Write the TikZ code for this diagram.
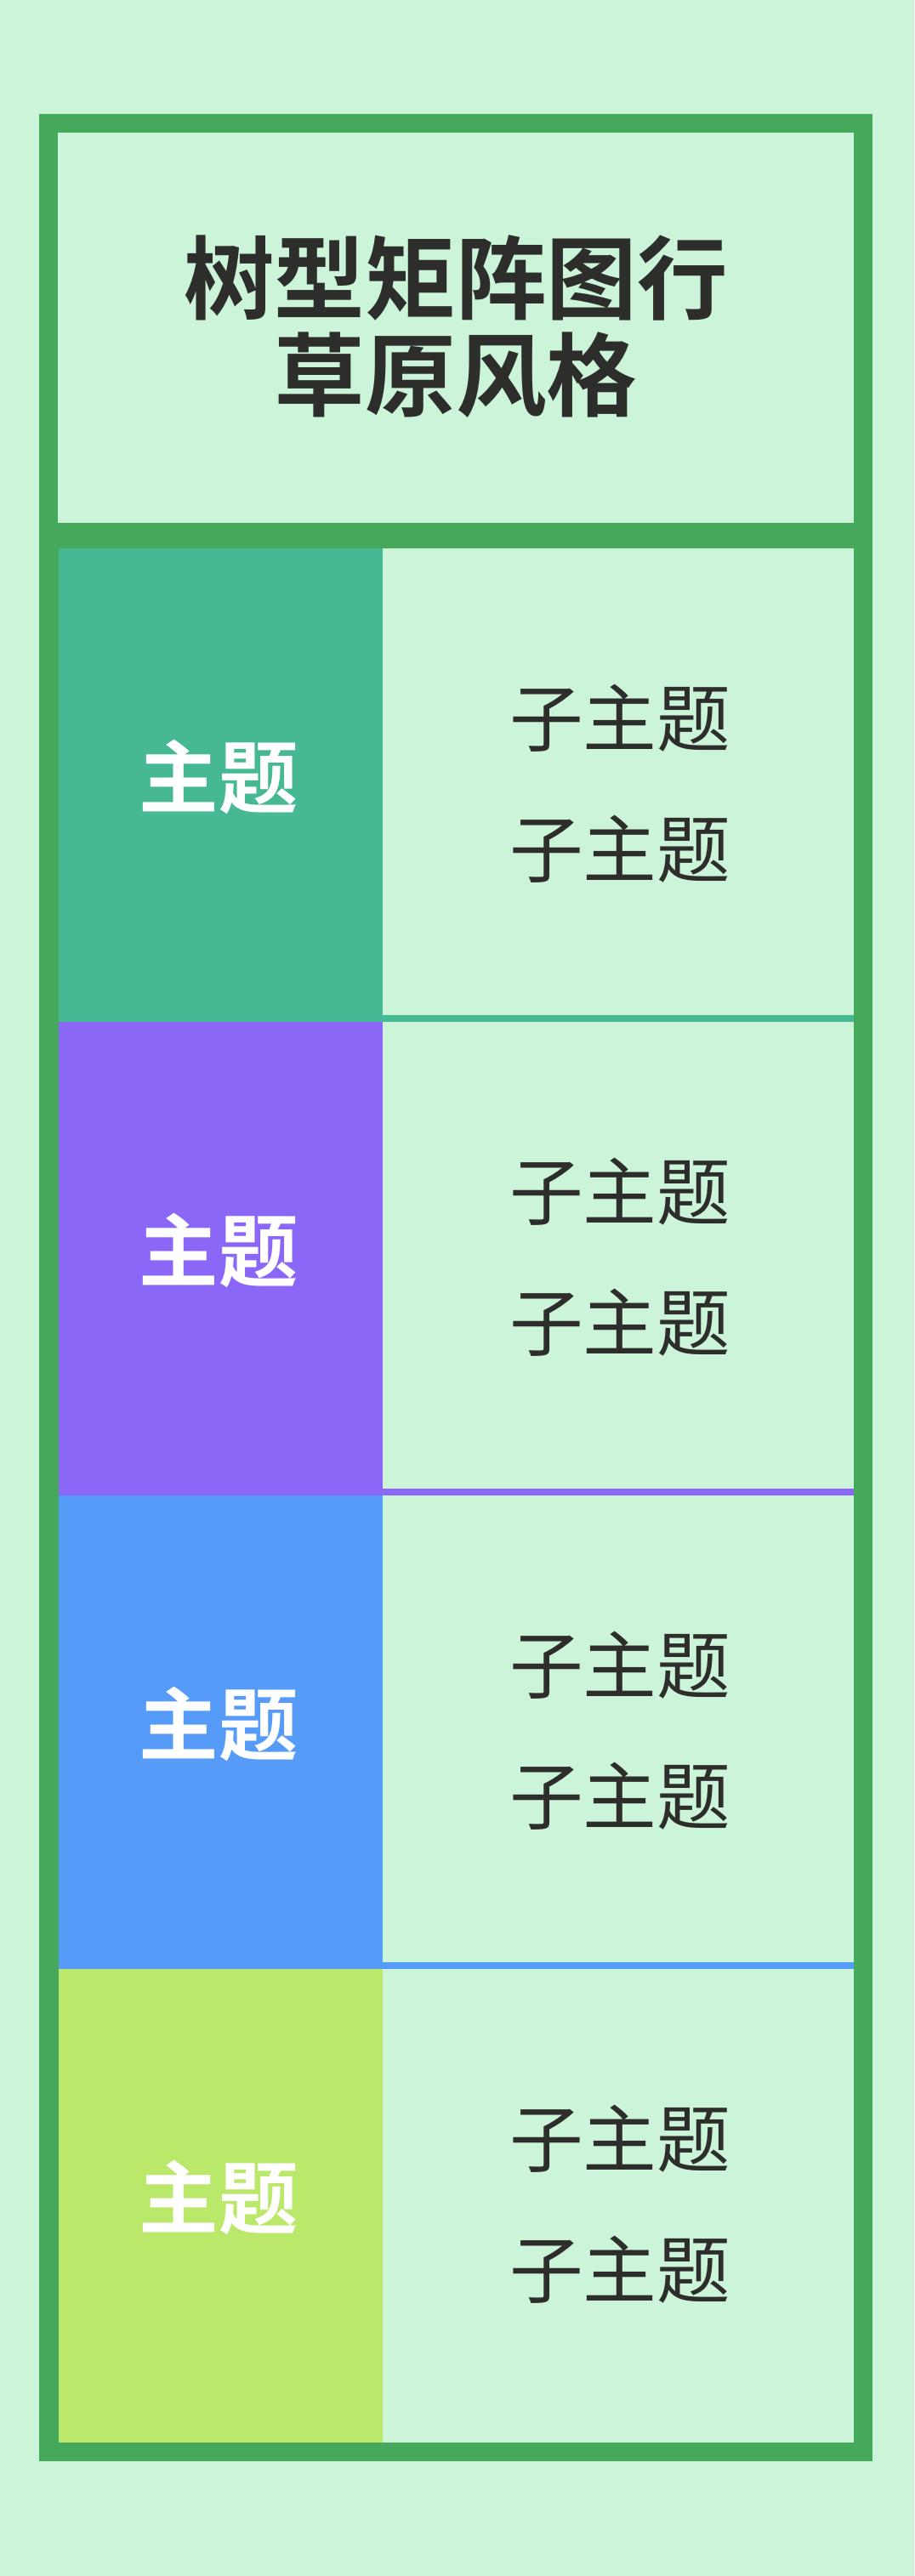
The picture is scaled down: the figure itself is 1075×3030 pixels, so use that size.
\documentclass[tikz,border=0pt]{standalone}
\usepackage{fontspec}
\setmainfont{Noto Sans CJK SC}[BoldFont={Noto Sans CJK SC Bold}]
\definecolor{bgmint}{HTML}{CCF4D8}
\definecolor{framegreen}{HTML}{45A85B}
\definecolor{cteal}{HTML}{46B893}
\definecolor{cpurple}{HTML}{8B67F8}
\definecolor{cblue}{HTML}{559BF7}
\definecolor{clime}{HTML}{B9E86A}
\definecolor{txtdark}{HTML}{2D2D2B}
\tikzset{
  titletext/.style={inner sep=0pt, text=txtdark, font=\fontsize{80pt}{84pt}\selectfont\bfseries},
  maintext/.style={inner sep=0pt, text=white, font=\fontsize{70pt}{72pt}\selectfont\bfseries},
  subtext/.style={inner sep=0pt, text=txtdark, font=\fontsize{65pt}{68pt}\selectfont},
}
\begin{document}
\begin{tikzpicture}[x=0.75pt,y=-0.75pt]
\useasboundingbox (0,0) rectangle (1075,3030);
\fill[bgmint] (0,0) rectangle (1075,3030);
% outer frame
\fill[framegreen] (46,134) rectangle (1026,2895);
% title area
\fill[bgmint] (68,156) rectangle (1004,615);
\node[titletext] (title1) at (536,326.5) {树型矩阵图行};
\node[titletext] (title2) at (536,441) {草原风格};
% rows
\foreach \i/\c/\cl in {0/cteal/1,1/cpurple/1,2/cblue/1,3/clime/0}{
  \pgfmathsetmacro{\t}{645+557*\i}
  \pgfmathsetmacro{\b}{\t+557}
  \pgfmathsetmacro{\m}{\t+278.5}
  \fill[\c] (69,\t) rectangle (450,\b);
  \fill[bgmint] (450,\t) rectangle (1004,\b);
  \ifnum\cl=1
    \fill[\c] (450,\b-8) rectangle (1004,\b);
  \fi
  \node[maintext] (main\i) at (257,\m-9.5) {主题};
  \node[subtext] (suba\i) at (729,\m-79) {子主题};
  \node[subtext] (subb\i) at (729,\m+75) {子主题};
}
\end{tikzpicture}
\end{document}
